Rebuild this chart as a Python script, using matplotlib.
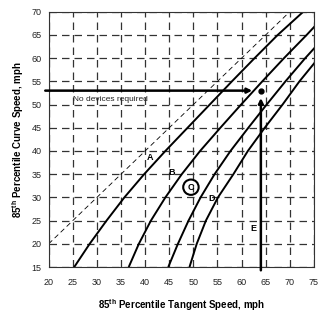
import matplotlib
matplotlib.use("Agg")
import matplotlib.pyplot as plt
from matplotlib.patches import Ellipse

plt.rcParams['font.family'] = ['Liberation Sans', 'DejaVu Sans']

# Curve data (tangent speed, curve speed), mph
curve_a_x = [25.3, 28.5, 32.0, 35.7, 39.8, 44.2, 48.8, 53.4, 58.0, 62.7, 67.5, 72.8]
curve_a_y = [15.0, 20.0, 25.0, 30.0, 35.0, 40.0, 45.0, 50.0, 55.0, 60.0, 65.0, 70.0]
curve_b_x = [36.6, 38.7, 41.2, 44.2, 47.6, 51.4, 55.6, 59.9, 64.3, 68.8, 73.5, 75.3]
curve_b_y = [15.0, 20.0, 25.0, 30.0, 35.0, 40.0, 45.0, 50.0, 55.0, 60.0, 65.0, 67.0]
curve_c_x = [44.8, 46.8, 49.0, 51.5, 54.4, 57.7, 61.4, 65.2, 69.1, 73.2, 75.3]
curve_c_y = [15.0, 20.0, 25.0, 30.0, 35.0, 40.0, 45.0, 50.0, 55.0, 60.0, 62.4]
curve_d_x = [49.2, 50.7, 52.6, 55.1, 58.3, 61.3, 64.8, 68.5, 72.0, 75.3]
curve_d_y = [15.0, 20.0, 25.0, 30.0, 35.0, 40.0, 45.0, 50.0, 55.0, 59.2]
equal_line = [20, 70]

example_tangent = 64
example_curve = 53

x_ticks = [20, 25, 30, 35, 40, 45, 50, 55, 60, 65, 70, 75]
y_ticks = [15, 20, 25, 30, 35, 40, 45, 50, 55, 60, 65, 70]

region_labels = ['A', 'B', 'D', 'E']
region_x = [41.0, 45.5, 53.7, 62.5]
region_y = [38.6, 35.4, 29.7, 23.2]
circled_label = 'C'
circled_xy = (49.5, 32.2)

fig = plt.figure(figsize=(3.2, 3.12), dpi=100)
ax = fig.add_axes([0.152, 0.144, 0.829, 0.8185])
ax.set_xlim(20, 75)
ax.set_ylim(15, 70)
ax.set_xticks(x_ticks)
ax.set_yticks(y_ticks)
ax.tick_params(length=0, labelsize=6.5, colors='#222222')
ax.tick_params(axis='x', pad=8)
ax.tick_params(axis='y', pad=5)
for s in ax.spines.values():
    s.set_linewidth(0.8)
    s.set_color('#333333')

ax.grid(True, color='#333333', linewidth=0.9, linestyle=(0, (6, 4)))
ax.set_axisbelow(True)

ax.plot(equal_line, equal_line, color='black', lw=0.6, ls=(0, (6, 4)))
for xs, ys in [(curve_a_x, curve_a_y), (curve_b_x, curve_b_y),
               (curve_c_x, curve_c_y), (curve_d_x, curve_d_y)]:
    ax.plot(xs, ys, color='black', lw=1.4, solid_capstyle='butt',
            solid_joinstyle='round')

# example arrows
ax.annotate('', xy=(example_tangent - 1.8, example_curve), xytext=(19.3, example_curve),
            arrowprops=dict(arrowstyle='-|>', color='black', lw=1.8,
                            mutation_scale=7, shrinkA=0, shrinkB=0),
            annotation_clip=False)
ax.annotate('', xy=(example_tangent, example_curve - 1.6), xytext=(example_tangent, 14.3),
            arrowprops=dict(arrowstyle='-|>', color='black', lw=1.8,
                            mutation_scale=7, shrinkA=0, shrinkB=0),
            annotation_clip=False)
ax.plot([example_tangent], [example_curve], 'o', color='black', ms=3.5)

ax.text(32.8, 51.0, 'No devices required', fontsize=6, ha='center', va='center',
        color='#222222')

for lab, x, y in zip(region_labels, region_x, region_y):
    ax.text(x, y, lab, fontsize=6.5, fontweight='bold', ha='center', va='center')
ax.text(circled_xy[0], circled_xy[1], circled_label, fontsize=6.5, fontweight='bold',
        ha='center', va='center')
circ = Ellipse(circled_xy, 3.2, 3.3, fill=False, lw=1.5, color='black')
ax.add_patch(circ)

ax.set_xlabel(r'85$^{\mathregular{th}}$ Percentile Tangent Speed, mph', fontsize=7,
              fontweight='bold', labelpad=7)
ax.set_ylabel(r'85$^{\mathregular{th}}$ Percentile Curve Speed, mph', fontsize=7,
              fontweight='bold', labelpad=4)

fig.savefig('out.png', dpi=100)
